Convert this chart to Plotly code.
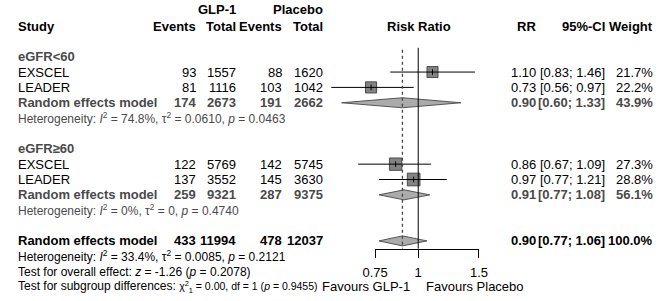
import math
import plotly.graph_objects as go

# ---------------- data ----------------
groups = ["eGFR<60", "eGFR\u226560"]
study = ["EXSCEL", "LEADER", "EXSCEL", "LEADER"]
ev_glp = [93, 81, 122, 137]
n_glp = [1557, 1116, 5769, 3552]
ev_pl = [88, 103, 142, 145]
n_pl = [1620, 1042, 5745, 3630]
rr = [1.10, 0.73, 0.86, 0.97]
lo = [0.83, 0.56, 0.67, 0.77]
hi = [1.46, 0.97, 1.09, 1.21]
wt = [21.7, 22.2, 27.3, 28.8]

sub_ev_glp = [174, 259]
sub_n_glp = [2673, 9321]
sub_ev_pl = [191, 287]
sub_n_pl = [2662, 9375]
sub_rr = [0.90, 0.91]
sub_lo = [0.60, 0.77]
sub_hi = [1.33, 1.08]
sub_wt = [43.9, 56.1]
sub_het = ["<i>I</i><sup>2</sup> = 74.8%, \u03c4<sup>2</sup> = 0.0610, <i>p</i> = 0.0463",
           "<i>I</i><sup>2</sup> = 0%, \u03c4<sup>2</sup> = 0, <i>p</i> = 0.4740"]

tot_ev_glp, tot_n_glp, tot_ev_pl, tot_n_pl = 433, 11994, 478, 12037
tot_rr, tot_lo, tot_hi, tot_wt = 0.90, 0.77, 1.06, 100.0
tot_het = "<i>I</i><sup>2</sup> = 33.4%, \u03c4<sup>2</sup> = 0.0085, <i>p</i> = 0.2121"
test_overall = "<i>z</i> = -1.26 (<i>p</i> = 0.2078)"
test_sub = "\u03c7<sup>2</sup><sub>1</sub> = 0.00, df = 1 (<i>p</i> = 0.9455)"

tick_vals = [0.75, 1, 1.5]
tick_text = ["0.75", "1", "1.5"]

# ---------------- layout geometry ----------------
W, H = 669, 301
ROW0_PX, ROW_PX = 26.0, 15.35
study_rows = [3, 4, 9, 10]
group_rows = [2, 8]
sub_rows = [5, 11]
subhet_rows = [6, 12]
tot_row = 14
FONT = "Liberation Sans, Arial, sans-serif"
GRAY = "#4a4a4a"
FS = 13
FS_SMALL = 12

# x-scale: pixel = 419 + 155*ln(RR)
X1_PX, PX_PER_LN = 419.0, 155.0
r0 = math.log10(math.exp(-X1_PX / PX_PER_LN))
r1 = math.log10(math.exp((W - X1_PX) / PX_PER_LN))

def dom(v):
    return (math.log10(v) - r0) / (r1 - r0)

y_top = -ROW0_PX / ROW_PX
y_bot = (H - ROW0_PX) / ROW_PX

fig = go.Figure()

# boxes
fig.add_trace(go.Scatter(
    x=rr, y=study_rows, mode="markers",
    marker=dict(symbol="square", size=[2.36 * math.sqrt(w) for w in wt],
                color="#4f4f4f", line=dict(color="black", width=1)),
    hoverinfo="skip", showlegend=False))

# CI lines
cx, cy = [], []
for l, h, r in zip(lo, hi, study_rows):
    cx += [l, h, None]
    cy += [r, r, None]
fig.add_trace(go.Scatter(x=cx, y=cy, mode="lines", line=dict(color="black", width=1),
                         hoverinfo="skip", showlegend=False))
fig.add_trace(go.Scatter(x=rr, y=study_rows, mode="markers",
                         marker=dict(symbol="line-ns", size=4, line=dict(color="black", width=1)),
                         hoverinfo="skip", showlegend=False))

# diamonds
dh = 5.0 / ROW_PX
def diamond(est, l, h, row):
    fig.add_trace(go.Scatter(
        x=[l, est, h, est, l], y=[row, row - dh, row, row + dh, row],
        mode="lines", fill="toself", fillcolor="#ababab",
        line=dict(color="#555555", width=1), hoverinfo="skip", showlegend=False))

for e, l, h, r in zip(sub_rr, sub_lo, sub_hi, sub_rows):
    diamond(e, l, h, r)
diamond(tot_rr, tot_lo, tot_hi, tot_row)

# reference lines
fig.add_trace(go.Scatter(x=[1, 1], y=[1.42, tot_row + 0.5], mode="lines",
                         line=dict(color="black", width=1), hoverinfo="skip", showlegend=False))
fig.add_trace(go.Scatter(x=[tot_rr, tot_rr], y=[1.55, tot_row + 0.5], mode="lines",
                         line=dict(color="#444444", width=1.3, dash="dot"),
                         hoverinfo="skip", showlegend=False))

ann = []
def txt(xpx, row, s, anchor="left", bold=False, color="black", size=FS):
    if bold:
        s = "<b>" + s + "</b>"
    ann.append(dict(x=xpx / W, y=row, xref="paper", yref="y", text=s, showarrow=False,
                    xanchor=anchor, yanchor="middle", borderpad=0,
                    font=dict(family=FONT, size=size, color=color)))

# column positions (px)
X_STUDY, X_EVG, X_NG, X_EVP, X_NP = 4, 190, 232, 279, 322
X_RR, X_CI, X_W = 542, 613, 663

# headers
txt(X_NG, -1.1, "GLP-1", "right", True)
txt(X_NP, -1.1, "Placebo", "right", True)
txt(X_STUDY, 0, "Study", "left", True)
txt(X_EVG, 0, "Events", "right", True)
txt(X_NG, 0, "Total", "right", True)
txt(X_EVP, 0, "Events", "right", True)
txt(X_NP, 0, "Total", "right", True)
txt(420, 0, "Risk Ratio", "center", True)
txt(X_RR, 0, "RR", "right", True)
txt(X_CI, 0, "95%-CI", "right", True)
txt(X_W, 0, "Weight", "right", True)

def row_vals(row, eg, ng, ep, npl, r, l, h, w, bold, color):
    txt(X_EVG, row, f"{eg}", "right", bold, color)
    txt(X_NG, row, f"{ng}", "right", bold, color)
    txt(X_EVP, row, f"{ep}", "right", bold, color)
    txt(X_NP, row, f"{npl}", "right", bold, color)
    txt(X_RR, row, f"{r:.2f}", "right", bold, color)
    txt(X_CI, row, f"[{l:.2f}; {h:.2f}]", "right", bold, color)
    txt(X_W, row, f"{w:.1f}%", "right", bold, color)

for g, row in zip(groups, group_rows):
    txt(X_STUDY, row, g, "left", True, GRAY)
for i, row in enumerate(study_rows):
    txt(X_STUDY, row, study[i])
    row_vals(row, ev_glp[i], n_glp[i], ev_pl[i], n_pl[i], rr[i], lo[i], hi[i], wt[i], False, "black")
for j, row in enumerate(sub_rows):
    txt(X_STUDY, row, "Random effects model", "left", True, GRAY)
    row_vals(row, sub_ev_glp[j], sub_n_glp[j], sub_ev_pl[j], sub_n_pl[j],
             sub_rr[j], sub_lo[j], sub_hi[j], sub_wt[j], True, GRAY)
for j, row in enumerate(subhet_rows):
    txt(X_STUDY, row, "Heterogeneity: " + sub_het[j], "left", False, GRAY, FS_SMALL)

txt(X_STUDY, tot_row, "Random effects model", "left", True)
row_vals(tot_row, tot_ev_glp, tot_n_glp, tot_ev_pl, tot_n_pl, tot_rr, tot_lo, tot_hi, tot_wt, True, "black")
txt(X_STUDY, tot_row + 1, "Heterogeneity: " + tot_het, "left", False, "black", FS_SMALL)
txt(X_STUDY, tot_row + 2, "Test for overall effect: " + test_overall, "left", False, "black", FS_SMALL)
txt(X_STUDY, tot_row + 3,
    "Test for subgroup differences: <span style='font-size:10.5px'>" + test_sub + "</span>",
    "left", False, "black", FS_SMALL)
txt(412, tot_row + 3, "Favours GLP-1", "right")
txt(426, tot_row + 3, "Favours Placebo", "left")

axis_pos = 1 - (ROW0_PX + ROW_PX * (tot_row + 0.5)) / H

fig.update_layout(
    width=W, height=H, margin=dict(l=0, r=0, t=0, b=0),
    paper_bgcolor="white", plot_bgcolor="rgba(0,0,0,0)",
    showlegend=False, annotations=ann,
    xaxis=dict(type="log", range=[r0, r1], domain=[0, 1], visible=False, fixedrange=True),
    xaxis2=dict(type="log", range=[math.log10(tick_vals[0]), math.log10(tick_vals[-1])],
                domain=[dom(tick_vals[0]), dom(tick_vals[-1])],
                anchor="free", position=axis_pos, side="bottom",
                showline=True, linecolor="black", linewidth=1,
                ticks="outside", ticklen=8, tickcolor="black", tickwidth=1,
                tickvals=tick_vals, ticktext=tick_text, showgrid=False, zeroline=False,
                ticklabelstandoff=4, fixedrange=True,
                tickfont=dict(family=FONT, size=FS, color="black")),
    yaxis=dict(range=[y_bot, y_top], visible=False, fixedrange=True),
)
# invisible trace so that xaxis2 is drawn
fig.add_trace(go.Scatter(x=[1], y=[tot_row], xaxis="x2", mode="markers",
                         marker=dict(opacity=0), hoverinfo="skip", showlegend=False))

fig.write_html("out.html", config={"displayModeBar": False},
               post_script="document.body.style.margin='0';")
